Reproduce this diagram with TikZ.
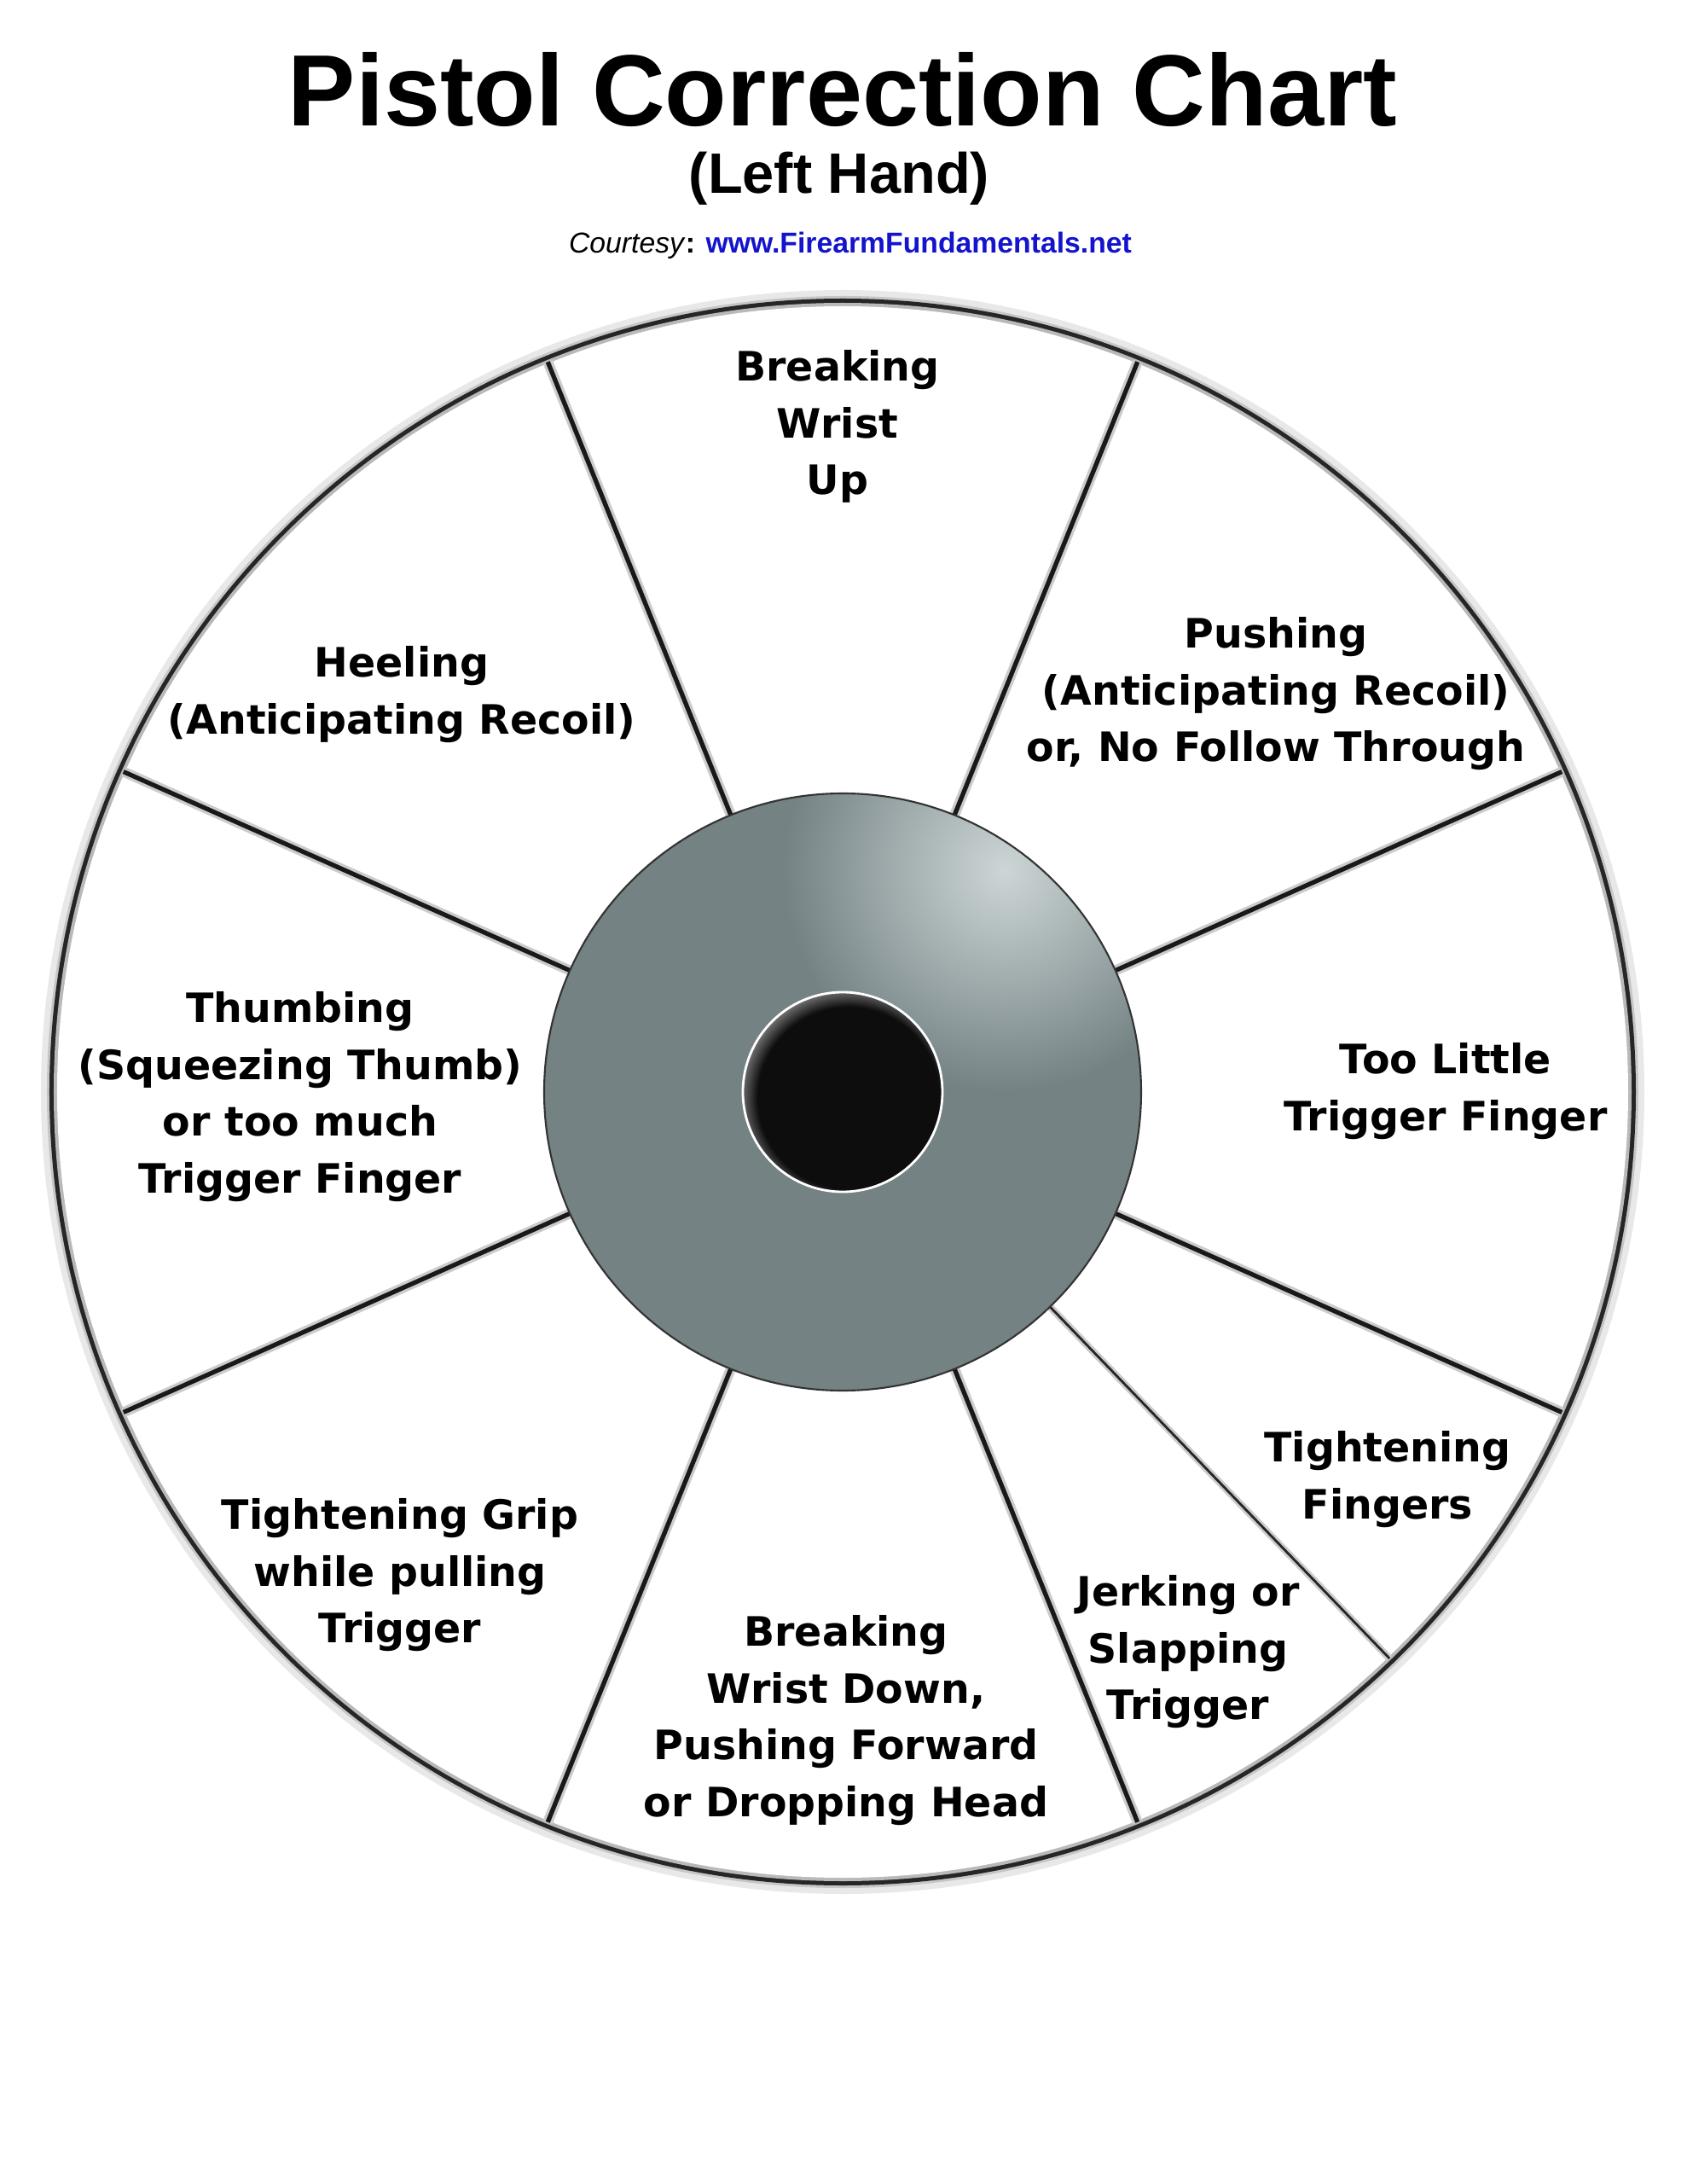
\documentclass[tikz,border=0pt]{standalone}
\usepackage{fontspec}
\setmainfont{Liberation Sans}
\newfontfamily\wheelfont{DejaVu Sans}
\usetikzlibrary{positioning}
\definecolor{discgray}{RGB}{116,130,132}
\definecolor{discglow}{RGB}{205,214,214}
\definecolor{linkblue}{RGB}{20,20,205}
\pgfdeclareradialshading{holeshade}{\pgfpoint{0bp}{0bp}}{color(0bp)=(black!95); color(21bp)=(black!95); color(25bp)=(black!55); color(50bp)=(black!55)}

\begin{document}
\begin{tikzpicture}[
  spoke/.style={line width=1.5pt, black!90},
  spokehalo/.style={line width=3.4pt, gray!40},
  splitline/.style={line width=0.8pt, black!85},
  splithalo/.style={line width=2.4pt, gray!40},
  cell/.style={align=center, anchor=north, inner sep=0pt, font=\wheelfont\bfseries\fontsize{13.5}{18.9}\selectfont}
]
\useasboundingbox (-9.88,-12.80) rectangle (9.90,12.80);
\node[anchor=base, font=\bfseries\fontsize{33.8}{40}\selectfont] (title) at (0,11.32) {Pistol Correction Chart};
\node[anchor=base, font=\bfseries\fontsize{19}{22}\selectfont] (hand) at (-0.04,10.53) {(Left Hand)};
\node[anchor=base, font=\fontsize{9.6}{11}\selectfont] (courtesy) at (0.09,9.83) {\textit{Courtesy}\textbf{: \textcolor{linkblue}{www.FirearmFundamentals.net}}};

% rim
\fill[gray!18] (0,0) circle (9.40);
\fill[gray!45] (0,0) circle (9.33);
\fill[black!85] (0,0) circle (9.30);
\fill[gray!55] (0,0) circle (9.25);
\fill[white] (0,0) circle (9.21);

% spokes
\foreach \a in {24,68,112,156,204,248,292,336}
  \draw[spokehalo] (\a:3.5) -- (\a:9.23);
\draw[splithalo] (-46:3.5) -- (-46:9.23);
\foreach \a in {24,68,112,156,204,248,292,336}
  \draw[spoke] (\a:3.5) -- (\a:9.23);
\draw[splitline] (-46:3.5) -- (-46:9.23);

% hub
\fill[discgray] (0,0) circle (3.5);
\begin{scope}
  \clip (0,0) circle (3.5);
  \shade[inner color=discglow, outer color=discgray] (1.9,2.6) circle (2.6);
\end{scope}
\draw[black!80, line width=0.6pt] (0,0) circle (3.5);
\fill[black!55] (0,0) circle (1.17);
\begin{scope}
  \clip (0,0) circle (1.17);
  \shade[shading=holeshade] (0.07,-0.07) circle (1.27);
\end{scope}
\draw[white, line width=0.8pt] (0,0) circle (1.17);

\node[cell] (wristup) at (-0.06,8.70) {Breaking\\Wrist\\Up};
\node[cell] (pushing) at (5.08,5.57) {Pushing\\(Anticipating Recoil)\\or, No Follow Through};
\node[cell] (heeling) at (-5.17,5.23) {Heeling\\(Anticipating Recoil)};
\node[cell] (thumbing) at (-6.36,1.18) {Thumbing\\(Squeezing Thumb)\\or too much\\Trigger Finger};
\node[cell] (toolittle) at (7.07,0.58) {Too Little\\Trigger Finger};
\node[cell] (grip) at (-5.19,-4.76) {Tightening Grip\\while pulling\\Trigger};
\node[cell] (wristdown) at (0.04,-6.13) {Breaking\\Wrist Down,\\Pushing Forward\\or Dropping Head};
\node[cell] (jerking) at (4.05,-5.66) {Jerking or\\Slapping\\Trigger};
\node[cell] (fingers) at (6.39,-3.97) {Tightening\\Fingers};
\end{tikzpicture}
\end{document}
